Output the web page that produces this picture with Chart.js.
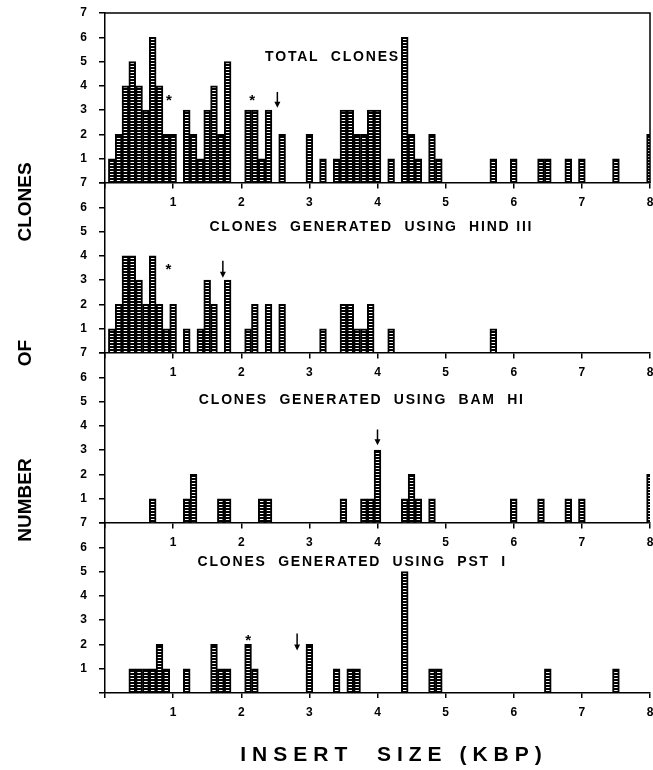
<!DOCTYPE html>
<html><head><meta charset="utf-8">
<script src="https://cdn.jsdelivr.net/npm/chart.js@4.4.1/dist/chart.umd.min.js"></script>
<style>html,body{margin:0;padding:0;background:#fff;}#wrap{width:653px;height:770px;position:relative;overflow:hidden}</style>
</head><body><div id="wrap"><canvas id="c" width="653" height="770"></canvas></div>
<script>
// ---- data (insert size in kbp, number of clones) ----
const xTickLabels = ['1','2','3','4','5','6','7','8'];
const yTickLabels = ['1','2','3','4','5','6','7'];
const panelTitles = ['TOTAL  CLONES', 'CLONES  GENERATED  USING  HIND III', 'CLONES  GENERATED  USING  BAM  HI', 'CLONES  GENERATED  USING  PST  I'];
const yTitleWords = ['CLONES', 'OF', 'NUMBER'];
const xTitle = 'INSERT  SIZE (KBP)';

const totalSizes  = [0.1,0.2,0.3,0.4,0.5,0.6,0.7,0.8,0.9,1.0,1.2,1.3,1.4,1.5,1.6,1.7,1.8,2.1,2.2,2.3,2.4,2.6,3.0,3.2,3.4,3.5,3.6,3.7,3.8,3.9,4.0,4.2,4.4,4.5,4.6,4.8,4.9,5.7,6.0,6.4,6.5,6.8,7.0,7.5,8.0];
const totalCounts = [1,2,4,5,4,3,6,4,2,2,3,2,1,3,4,2,5,3,3,1,3,2,2,1,1,3,3,2,2,3,3,1,6,2,1,2,1,1,1,1,1,1,1,1,2];

const hindSizes  = [0.1,0.2,0.3,0.4,0.5,0.6,0.7,0.8,0.9,1.0,1.2,1.4,1.5,1.6,1.8,2.1,2.2,2.4,2.6,3.2,3.5,3.6,3.7,3.8,3.9,4.2,5.7];
const hindCounts = [1,2,4,4,3,2,4,2,1,2,1,1,3,2,3,1,2,2,2,1,2,2,1,1,2,1,1];

const bamSizes  = [0.7,1.2,1.3,1.7,1.8,2.3,2.4,3.5,3.8,3.9,4.0,4.4,4.5,4.6,4.8,6.0,6.4,6.8,7.0,8.0];
const bamCounts = [1,1,2,1,1,1,1,1,1,1,3,1,2,1,1,1,1,1,1,2];

const pstSizes  = [0.4,0.5,0.6,0.7,0.8,0.9,1.2,1.6,1.7,1.8,2.1,2.2,3.0,3.4,3.6,3.7,4.4,4.8,4.9,6.5,7.5];
const pstCounts = [1,1,1,1,2,1,1,2,1,1,2,1,2,1,1,1,5,1,1,1,1];

// annotation marks: [panel, size (kbp), count level]
const starMarks  = [[0,0.94,3.5],[0,2.16,3.5],[1,0.93,3.55],[3,2.1,2.25]];
// arrows: [panel, size, top level, tip level]
const arrowMarks = [[0,2.53,3.75,3.1],[1,1.73,3.8,3.1],[2,4.0,3.85,3.2],[3,2.82,2.45,1.75]];
// panel title anchors: [size, level]
const titleAnchors = [[3.34,5.2],[3.91,5.2],[3.77,5.05],[3.63,5.4]];

// ---- bar fill pattern (stippled) ----
const pc = document.createElement('canvas'); pc.width = 1; pc.height = 3;
const pctx = pc.getContext('2d');
pctx.fillStyle = '#000'; pctx.fillRect(0,0,1,3);
pctx.fillStyle = '#fff'; pctx.fillRect(0,0,1,1);
const stipple = document.getElementById('c').getContext('2d').createPattern(pc, 'repeat');

const FONT = 'Liberation Sans, Arial, sans-serif';
const series = [[totalSizes,totalCounts],[hindSizes,hindCounts],[bamSizes,bamCounts],[pstSizes,pstCounts]];

const datasets = series.map((s, i) => ({
  data: s[0].map((x, j) => ({x: x, y: s[1][j]})),
  xAxisID: 'x' + (i+1), yAxisID: 'y' + (i+1),
  backgroundColor: stipple, borderColor: '#000', borderWidth: 2,
  grouped: false, barPercentage: 1, categoryPercentage: 1
}));

const scales = {};
for (let i = 0; i < 4; i++) {
  scales['y' + (i+1)] = {
    type: 'linear', position: 'left', stack: 'panels', stackWeight: 1, weight: 4 - i,
    min: 0, max: 7,
    ticks: { stepSize: 1, autoSkip: false, color: '#000', padding: 12,
      font: { family: FONT, weight: 'bold', size: 12 },
      callback: v => v > 0 ? yTickLabels[v-1] : '' },
    grid: { drawOnChartArea: false, drawTicks: true, tickLength: 6, color: '#000', lineWidth: 1.5 },
    border: { display: true, color: '#000', width: 1.5 },
    afterFit: s => { s.width = 105; s.paddingTop = 0; s.paddingBottom = 0; }
  };
}
for (let i = 0; i < 4; i++) {
  const sc = {
    type: 'linear', min: 0, max: 8, offset: false,
    position: i < 3 ? { ['y' + (i+1)]: 0 } : 'bottom',
    ticks: { stepSize: 1, autoSkip: false, maxRotation: 0, color: '#000', padding: 7,
      font: { family: FONT, weight: 'bold', size: 12 },
      callback: v => (v >= 1 && v <= 8) ? xTickLabels[v-1] : '' },
    grid: { offset: false, drawOnChartArea: false, drawTicks: true, tickLength: 5, color: '#000', lineWidth: 1.5 },
    border: { display: true, color: '#000', width: 1.5 },
    afterFit: s => { s.paddingLeft = 0; s.paddingRight = 0; if (i === 3) s.height = 77; }
  };
  scales['x' + (i+1)] = sc;
}

const decor = {
  id: 'decor',
  afterDraw(chart) {
    const ctx = chart.ctx;
    ctx.save();
    ctx.fillStyle = '#000'; ctx.strokeStyle = '#000';
    // frame of top panel
    const x1 = chart.scales.x1, y1 = chart.scales.y1;
    ctx.lineWidth = 1.5;
    ctx.beginPath();
    ctx.moveTo(x1.getPixelForValue(0), y1.getPixelForValue(7));
    ctx.lineTo(x1.getPixelForValue(8), y1.getPixelForValue(7));
    ctx.lineTo(x1.getPixelForValue(8), y1.getPixelForValue(0));
    ctx.stroke();
    // panel titles
    ctx.font = 'bold 14px ' + FONT;
    ctx.textAlign = 'center'; ctx.textBaseline = 'middle';
    ctx.letterSpacing = '1.8px';
    titleAnchors.forEach((a, i) => {
      const xs = chart.scales['x' + (i+1)], ys = chart.scales['y' + (i+1)];
      ctx.fillText(panelTitles[i], xs.getPixelForValue(a[0]), ys.getPixelForValue(a[1]));
    });
    // stars
    ctx.letterSpacing = '0px';
    ctx.font = 'bold 15px ' + FONT;
    starMarks.forEach(m => {
      const xs = chart.scales['x' + (m[0]+1)], ys = chart.scales['y' + (m[0]+1)];
      ctx.fillText('*', xs.getPixelForValue(m[1]), ys.getPixelForValue(m[2]) + 3);
    });
    // arrows
    ctx.lineWidth = 1.5;
    arrowMarks.forEach(m => {
      const xs = chart.scales['x' + (m[0]+1)], ys = chart.scales['y' + (m[0]+1)];
      const x = xs.getPixelForValue(m[1]), yt = ys.getPixelForValue(m[2]), yb = ys.getPixelForValue(m[3]);
      ctx.beginPath(); ctx.moveTo(x, yt); ctx.lineTo(x, yb - 3); ctx.stroke();
      ctx.beginPath(); ctx.moveTo(x - 3, yb - 6); ctx.lineTo(x + 3, yb - 6); ctx.lineTo(x, yb); ctx.closePath(); ctx.fill();
    });
    // axis titles
    ctx.font = 'bold 21px ' + FONT;
    ctx.letterSpacing = '6px';
    ctx.textBaseline = 'middle';
    ctx.fillText(xTitle, 394, 755);
    ctx.font = 'bold 19px ' + FONT;
    ctx.letterSpacing = '0px';
    const wordCentres = [202, 353, 500];
    yTitleWords.forEach((w, i) => {
      ctx.save();
      ctx.translate(26, wordCentres[i]);
      ctx.rotate(-Math.PI / 2);
      ctx.fillText(w, 0, 0);
      ctx.restore();
    });
    ctx.restore();
  }
};

new Chart(document.getElementById('c'), {
  type: 'bar',
  data: { datasets: datasets },
  options: {
    responsive: false, devicePixelRatio: 1, animation: false,
    layout: { padding: { left: 0, right: 3, top: 13, bottom: 0 } },
    plugins: { legend: { display: false }, tooltip: { enabled: false } },
    scales: scales
  },
  plugins: [decor]
});
</script></body></html>
